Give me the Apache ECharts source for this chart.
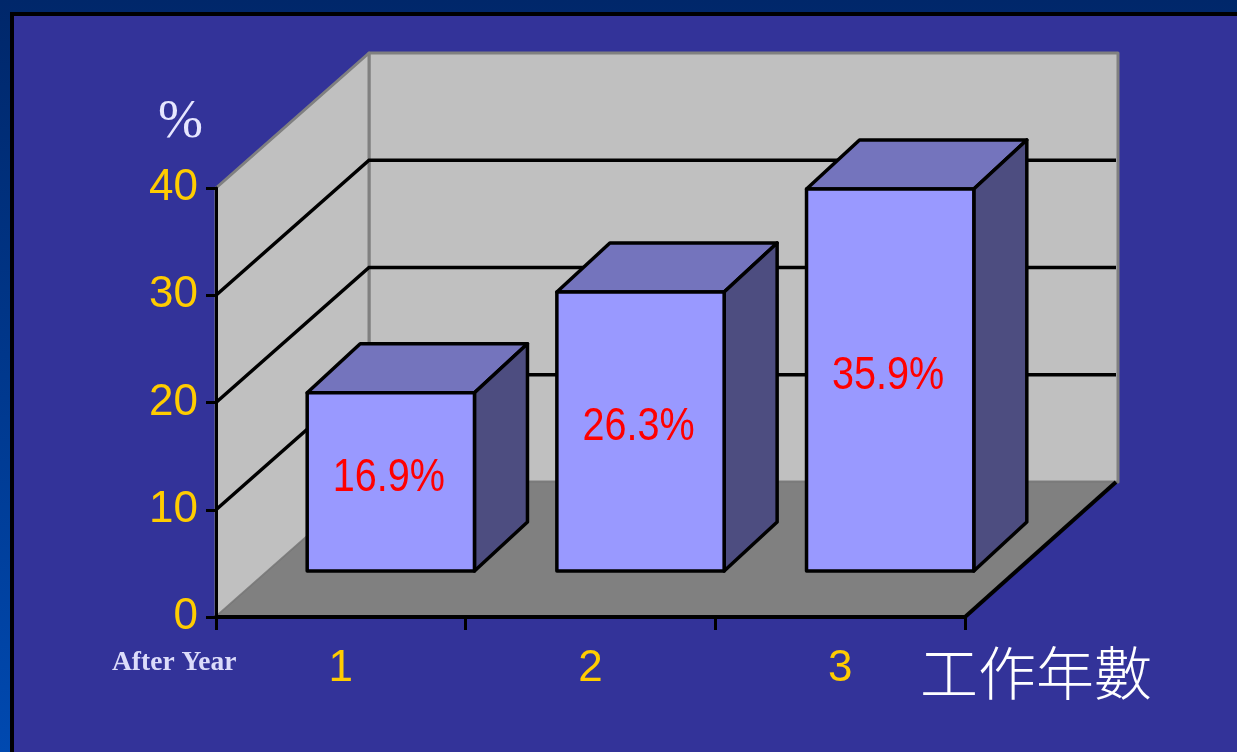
<!DOCTYPE html>
<html>
<head>
<meta charset="utf-8">
<title>工作年數</title>
<style>
html, body { margin: 0; padding: 0; background: #333399; overflow: hidden; }
#main { width: 1237px; height: 752px; }
</style>
<script src="https://cdn.jsdelivr.net/npm/echarts@6/dist/echarts.min.js"></script>
</head>
<body>
<div id="main"></div>
<script>
var years = ['1', '2', '3'];
var rates = [16.9, 26.3, 35.9];
var gridTicks = [10, 20, 30, 40];

var wallDepth = [153, -135];
var barDepth = [53, -49];
var baseLift = 46;
var topLift = 43;
var barShift = 50;

var myChart = echarts.init(document.getElementById('main'));

function poly(points, fill, stroke, width) {
    return {
        type: 'polygon',
        shape: {points: points},
        style: {fill: fill, stroke: stroke, lineWidth: width, lineJoin: 'round'}
    };
}

//floor and the two walls
function renderWalls(params, api) {
    var c = params.coordSys;
    var l = c.x, r = c.x + c.width, t = c.y, b = c.y + c.height;
    var dx = wallDepth[0], dy = wallDepth[1];
    return {
        type: 'group',
        children: [
            poly([[l + dx, t + dy], [r + dx, t + dy], [r + dx, b + dy], [l + dx, b + dy]], '#c0c0c0', '#808080', 3),
            poly([[l, b], [l, t], [l + dx, t + dy], [l + dx, b + dy]], '#c0c0c0', '#808080', 3),
            poly([[l, b], [r, b], [r + dx, b + dy], [l + dx, b + dy]], '#808080', '#777777', 1),
            {
                type: 'line',
                shape: {x1: r, y1: b, x2: r + dx - 2, y2: b + dy},
                style: {stroke: '#000', lineWidth: 4}
            }
        ]
    };
}

//gridlines run along the side wall and then the back wall
function renderGrid(params, api) {
    var c = params.coordSys;
    var y = api.coord([0, api.value(0)])[1];
    var l = c.x, r = c.x + c.width;
    var dx = wallDepth[0], dy = wallDepth[1];
    if (api.value(0) >= 40) {
        return {type: 'group', children: []};
    }
    return {
        type: 'polyline',
        shape: {points: [[l, y], [l + dx, y + dy], [r + dx - 2, y + dy]]},
        style: {fill: null, stroke: '#000', lineWidth: 3.5}
    };
}

function renderBar(params, api) {
    var base = api.coord([api.value(0), 0]);
    var top = api.coord([api.value(0), api.value(1)]);
    var w = api.size([1, 0])[0] * 0.67;
    var cx = base[0] + barShift;
    var x1 = cx - w / 2, x2 = cx + w / 2;
    var y2 = base[1] - baseLift;
    var y1 = top[1] - topLift;
    var dx = barDepth[0], dy = barDepth[1];
    return {
        type: 'group',
        children: [
            poly([[x1, y1], [x2, y1], [x2 + dx, y1 + dy], [x1 + dx, y1 + dy]], '#7474bd', '#000', 3.5),
            poly([[x2, y1], [x2 + dx, y1 + dy], [x2 + dx, y2 + dy], [x2, y2]], '#4d4d80', '#000', 3.5),
            poly([[x1, y1], [x2, y1], [x2, y2], [x1, y2]], '#9999ff', '#000', 3.5),
            {
                type: 'text',
                x: cx - 2,
                y: (y1 + y2) / 2 - 4,
                scaleX: 0.86,
                style: {
                    text: api.value(1).toFixed(1) + '%',
                    align: 'center',
                    verticalAlign: 'middle',
                    fill: '#ff0000',
                    fontFamily: 'Liberation Sans',
                    fontSize: 46
                }
            }
        ]
    };
}

myChart.setOption({
    animation: false,
    backgroundColor: {
        type: 'linear', x: 0, y: 0, x2: 0, y2: 1,
        colorStops: [{offset: 0, color: '#00276a'}, {offset: 1, color: '#0049b0'}]
    },
    grid: {left: 216, top: 188, right: 272, bottom: 135},
    xAxis: {
        type: 'category',
        data: years,
        z: 5,
        axisLine: {lineStyle: {color: '#000', width: 4}},
        axisTick: {show: true, length: 13, lineStyle: {color: '#000', width: 3}},
        axisLabel: {color: '#ffcc00', fontFamily: 'Liberation Sans', fontSize: 44, margin: 30}
    },
    yAxis: {
        type: 'value',
        min: 0,
        max: 40,
        interval: 10,
        z: 5,
        splitLine: {show: false},
        axisLine: {show: true, lineStyle: {color: '#000', width: 3}},
        axisTick: {show: true, length: 10, lineStyle: {color: '#000', width: 3}},
        axisLabel: {color: '#ffcc00', fontFamily: 'Liberation Sans', fontSize: 44, margin: 18}
    },
    graphic: [
        {
            type: 'rect',
            z: -1,
            shape: {x: 12, y: 14, width: 1300, height: 800},
            style: {fill: '#333399', stroke: '#000', lineWidth: 4}
        },
        {
            type: 'text', z: 6, left: 158, top: 96,
            style: {text: '%', fill: '#e6e6ff', fontFamily: 'Liberation Serif', fontSize: 54}
        },
        {
            type: 'text', z: 6, left: 112, top: 649,
            style: {text: 'After Year', fill: '#dcdcfa', fontFamily: 'Liberation Serif', fontWeight: 'bold', fontSize: 27.5}
        },
        {
            type: 'text', z: 6, left: 920, top: 644,
            style: {text: '工作年數', fill: '#ffffff', fontFamily: 'Noto Sans CJK TC', fontWeight: 300, fontSize: 58}
        }
    ],
    series: [
        {type: 'custom', name: 'walls', coordinateSystem: 'cartesian2d', z: 1, silent: true, renderItem: renderWalls, data: [[0]]},
        {type: 'custom', name: 'grid', coordinateSystem: 'cartesian2d', z: 2, silent: true, renderItem: renderGrid, data: gridTicks.map(function (v) { return [v]; })},
        {type: 'custom', name: 'rate', coordinateSystem: 'cartesian2d', z: 3, renderItem: renderBar, data: rates.map(function (v, i) { return [i, v]; })}
    ]
});
</script>
</body>
</html>
